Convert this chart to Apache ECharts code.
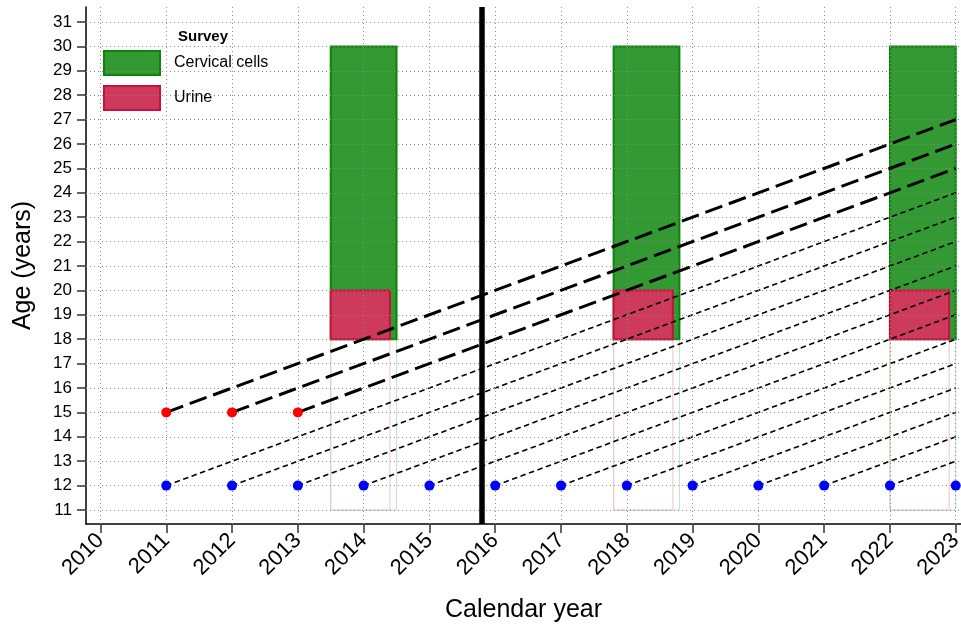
<!DOCTYPE html>
<html>
<head>
<meta charset="utf-8">
<script src="https://cdn.jsdelivr.net/npm/echarts@6/dist/echarts.min.js"></script>
<style>html,body{margin:0;padding:0;background:#fff}#c{width:961px;height:628px}</style>
</head>
<body>
<div id="c"></div>
<script>
// ---- data ----
const yearTicks = [2010,2011,2012,2013,2014,2015,2016,2017,2018,2019,2020,2021,2022,2023];
const ageTicks = [11,12,13,14,15,16,17,18,19,20,21,22,23,24,25,26,27,28,29,30,31];
const surveyStart = [2013.5, 2017.8, 2022.0];
const cervicalEnd = [2014.5, 2018.8, 2023.0];
const urineEnd = [2014.4, 2018.7, 2022.9];
const cervicalAge = [18, 30];
const urineAge = [18, 20];
const outlineAge = [11, 18];
const blueYears = [2011,2012,2013,2014,2015,2016,2017,2018,2019,2020,2021,2022,2023];
const blueAge = 12;
const redYears = [2011,2012,2013];
const redAge = 15;
const followEndYear = 2023;
const dottedStartYears = [2011,2012,2013,2014,2015,2016,2017,2018,2019,2020,2021,2022];
const dottedEndAges = [24,23,22,21,20,19,18,17,16,15,14,13];
const dashedStartYears = [2011,2012,2013];
const dashedEndAges = [27,26,25];
const cutoffYear = 2015.8;

const FONT = "'Liberation Sans', Arial, Helvetica, sans-serif";
const gridStyle = {color: '#8a8a8a', width: 1, type: [1, 3]};

function rectSeries(name, starts, ends, ages, fill, stroke, lw, z) {
  return {
    name: name, type: 'custom', z: z,
    encode: {x: [0, 1], y: [2, 3]},
    data: starts.map((s, i) => [s, ends[i], ages[0], ages[1]]),
    renderItem: function (params, api) {
      const p0 = api.coord([api.value(0), api.value(3)]);
      const p1 = api.coord([api.value(1), api.value(2)]);
      return {type: 'rect', shape: {x: p0[0], y: p0[1], width: p1[0] - p0[0], height: p1[1] - p0[1]},
        style: {fill: fill, stroke: stroke, lineWidth: lw}};
    },
    itemStyle: {color: fill}, silent: true
  };
}

const chart = echarts.init(document.getElementById('c'), null, {renderer: 'canvas'});
chart.setOption({
  animation: false,
  backgroundColor: '#fff',
  title: {text: 'Survey', left: 173, top: 24, textStyle: {fontFamily: FONT, fontSize: 15, fontWeight: 'bold', color: '#000'}},
  legend: {
    left: 103, top: 50, orient: 'vertical', itemWidth: 56, itemHeight: 24, itemGap: 9, padding: 0,
    icon: 'rect', selectedMode: false,
    textStyle: {fontFamily: FONT, fontSize: 16, color: '#000', padding: [2, 0, 0, 9]},
    data: [
      {name: 'Cervical cells', itemStyle: {color: '#339933', borderColor: '#0a850a', borderWidth: 2}},
      {name: 'Urine', itemStyle: {color: '#cd3a5c', borderColor: '#c8103c', borderWidth: 2}}
    ]
  },
  grid: {left: 86, right: 0, top: 7, bottom: 104, containLabel: false, outerBoundsMode: 'none'},
  xAxis: {
    type: 'value', min: 2009.78, max: 2023.08,
    name: 'Calendar year', nameLocation: 'middle', nameGap: 74,
    nameTextStyle: {fontFamily: FONT, fontSize: 25, color: '#000'},
    axisLine: {show: true, onZero: false, lineStyle: {color: '#000', width: 1.5}},
    axisTick: {show: true, inside: false, length: 9, customValues: yearTicks, lineStyle: {color: '#333', width: 1.5}},
    axisLabel: {customValues: yearTicks, rotate: 45, margin: 13, fontFamily: FONT, fontSize: 22, color: '#000',
      formatter: v => String(v)},
    splitLine: {show: false}
  },
  yAxis: {
    type: 'value', min: 10.426, max: 31.615,
    name: 'Age (years)', nameLocation: 'middle', nameGap: 50,
    nameTextStyle: {fontFamily: FONT, fontSize: 25, color: '#000'},
    axisLine: {show: true, onZero: false, lineStyle: {color: '#000', width: 1.5}},
    axisTick: {show: true, inside: false, length: 9, customValues: ageTicks, lineStyle: {color: '#333', width: 1.5}},
    axisLabel: {customValues: ageTicks, margin: 14, fontFamily: FONT, fontSize: 17, color: '#000',
      formatter: v => String(v)},
    splitLine: {show: false}
  },
  series: [
    {
      name: 'grid', type: 'line', z: 0, data: [], silent: true,
      markLine: {silent: true, symbol: ['none', 'none'], label: {show: false}, lineStyle: gridStyle,
        data: yearTicks.map(v => ({xAxis: v})).concat(ageTicks.map(v => ({yAxis: v})))}
    },
    rectSeries('outlineCervical', surveyStart, cervicalEnd, outlineAge, 'rgba(0,0,0,0)', '#c4e3c4', 1, 1),
    rectSeries('outlineUrine', surveyStart, urineEnd, outlineAge, 'rgba(0,0,0,0)', '#ecc4cc', 1, 1),
    rectSeries('Cervical cells', surveyStart, cervicalEnd, cervicalAge, '#339933', '#0a850a', 2, 2),
    rectSeries('Urine', surveyStart, urineEnd, urineAge, '#cd3a5c', '#c8103c', 2, 3),
    {
      name: 'dotted', type: 'lines', coordinateSystem: 'cartesian2d', z: 4, silent: true,
      lineStyle: {color: '#000', width: 1.6, type: [5.5, 3.5], opacity: 1},
      data: dottedStartYears.map((s, i) => ({coords: [[s, blueAge], [followEndYear, dottedEndAges[i]]]}))
    },
    {
      name: 'dashed', type: 'lines', coordinateSystem: 'cartesian2d', z: 5, silent: true,
      lineStyle: {color: '#000', width: 3, type: [18, 7], opacity: 1},
      data: dashedStartYears.map((s, i) => ({coords: [[s, redAge], [followEndYear, dashedEndAges[i]]]}))
    },
    {
      name: 'blue', type: 'scatter', z: 6, symbolSize: 10, silent: true,
      itemStyle: {color: '#0000ff', opacity: 1},
      data: blueYears.map(y => [y, blueAge])
    },
    {
      name: 'red', type: 'scatter', z: 6, symbolSize: 10, silent: true,
      itemStyle: {color: '#ff0000', opacity: 1},
      data: redYears.map(y => [y, redAge])
    },
    {
      name: 'cutoff', type: 'line', z: 8, data: [], silent: true,
      markLine: {silent: true, symbol: ['none', 'none'], label: {show: false},
        lineStyle: {color: '#000', width: 5.5, type: 'solid'},
        data: [{xAxis: cutoffYear}]}
    }
  ]
});
</script>
</body>
</html>
